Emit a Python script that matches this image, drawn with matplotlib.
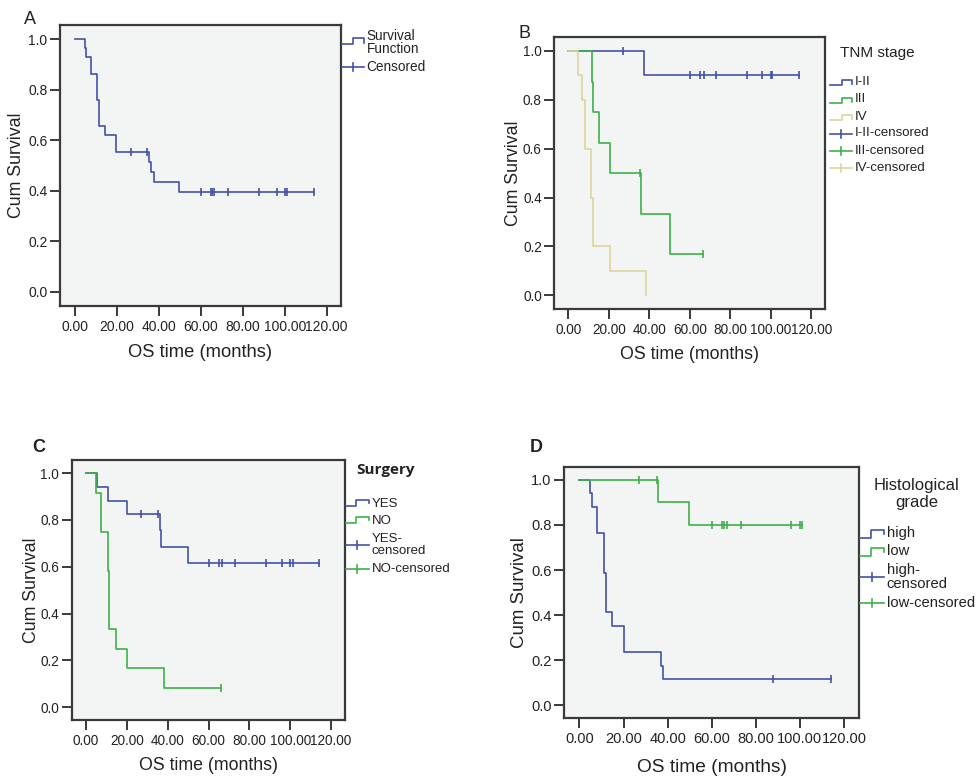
import matplotlib
matplotlib.use("Agg")
import matplotlib.pyplot as plt
from matplotlib.lines import Line2D

plt.rcParams['font.family'] = ['Liberation Sans', 'DejaVu Sans']

# ---------------- data ----------------
# Panel A: overall survival
a_time = [0, 4.8, 5.6, 7.6, 10.6, 11.6, 14.3, 19.6, 35.4, 36.5, 37.7, 49.7, 114.1]
a_surv = [1.0, 0.966, 0.931, 0.862, 0.759, 0.655, 0.621, 0.552, 0.512, 0.473, 0.434, 0.394, 0.394]
a_cens_t = [26.7, 34.6, 59.9, 64.7, 65.6, 66.4, 72.8, 87.9, 96.1, 100.3, 100.9, 114.1]
a_cens_s = [0.552, 0.552, 0.394, 0.394, 0.394, 0.394, 0.394, 0.394, 0.394, 0.394, 0.394, 0.394]

# Panel B: TNM stage
b12_time = [0, 37.2, 113.9]
b12_surv = [1.0, 0.9, 0.9]
b12_cens_t = [27.0, 60.2, 65.1, 67.1, 73.0, 88.0, 95.9, 100.0, 100.8, 113.9]
b12_cens_s = [1.0, 0.9, 0.9, 0.9, 0.9, 0.9, 0.9, 0.9, 0.9, 0.9]
b3_time = [0, 11.5, 12.0, 15.1, 20.3, 36.1, 50.0, 66.4]
b3_surv = [1.0, 0.875, 0.75, 0.625, 0.5, 0.333, 0.167, 0.167]
b3_cens_t = [35.2, 66.4]
b3_cens_s = [0.5, 0.167]
b4_time = [0, 4.9, 6.5, 8.0, 11.3, 12.1, 20.5, 38.4]
b4_surv = [1.0, 0.9, 0.8, 0.6, 0.4, 0.2, 0.1, 0.0]
b_labels = ['I-II', 'III', 'IV', 'I-II-censored', 'III-censored', 'IV-censored']

# Panel C: Surgery
cy_time = [0, 5.5, 10.6, 20.0, 36.1, 36.9, 50.1, 114.3]
cy_surv = [1.0, 0.941, 0.882, 0.824, 0.755, 0.686, 0.618, 0.618]
cy_cens_t = [26.9, 35.4, 60.1, 64.9, 66.7, 73.0, 88.0, 96.0, 100.1, 101.1, 114.3]
cy_cens_s = [0.824, 0.824, 0.618, 0.618, 0.618, 0.618, 0.618, 0.618, 0.618, 0.618, 0.618]
cn_time = [0, 4.7, 7.3, 10.6, 11.4, 14.5, 20.0, 38.0, 66.1]
cn_surv = [1.0, 0.917, 0.75, 0.583, 0.333, 0.25, 0.167, 0.083, 0.083]
cn_cens_t = [66.1]
cn_cens_s = [0.083]
c_labels = ['YES', 'NO', 'YES-\ncensored', 'NO-censored']

# Panel D: Histological grade
dh_time = [0, 4.8, 5.8, 7.9, 11.0, 12.0, 14.7, 20.0, 37.0, 38.1, 114.0]
dh_surv = [1.0, 0.941, 0.882, 0.765, 0.588, 0.412, 0.353, 0.235, 0.176, 0.118, 0.118]
dh_cens_t = [88.0, 114.0]
dh_cens_s = [0.118, 0.118]
dl_time = [0, 35.8, 49.9, 100.8]
dl_surv = [1.0, 0.9, 0.8, 0.8]
dl_cens_t = [26.9, 35.1, 60.0, 64.8, 65.7, 66.8, 73.2, 96.0, 100.0, 100.8]
dl_cens_s = [1.0, 1.0, 0.8, 0.8, 0.8, 0.8, 0.8, 0.8, 0.8, 0.8]
d_labels = ['high', 'low', 'high-\ncensored', 'low-censored']

x_ticks = [0, 20, 40, 60, 80, 100, 120]
y_ticks = [0.0, 0.2, 0.4, 0.6, 0.8, 1.0]

# ---------------- style ----------------
W, H = 976, 776
BLUE = '#4351A8'
GREEN = '#3FB04A'
TAN = '#DDD59C'
BG = '#F3F5F5'
FRAME = '#3A3A3A'
TXT = '#222222'

fig = plt.figure(figsize=(W / 100, H / 100), dpi=100)


def fx(x):
    return x / W


def fy(y):
    return 1 - y / H


def make_ax(l, t, r, b, tick_fs):
    ax = fig.add_axes([fx(l), fy(b), fx(r) - fx(l), (b - t) / H])
    ax.set_facecolor(BG)
    ax.set_xlim(-7.0, 126.8)
    ax.set_ylim(-0.055, 1.056)
    ax.set_xticks(x_ticks)
    ax.set_yticks(y_ticks)
    ax.set_xticklabels(['%.2f' % v for v in x_ticks])
    ax.set_yticklabels(['%.1f' % v for v in y_ticks])
    for s in ax.spines.values():
        s.set_color(FRAME)
        s.set_linewidth(1.6)
    ax.tick_params(direction='out', length=7, width=1.4, color=FRAME,
                   labelsize=tick_fs, labelcolor=TXT)
    ax.tick_params(axis='x', pad=3)
    ax.tick_params(axis='y', pad=2)
    return ax


def km(ax, t, s, color, z=2, ct=None, cs=None):
    ax.step(t, s, where='post', color=color, lw=1.2, zorder=z)
    if ct:
        ax.plot(ct, cs, linestyle='none', marker='|', ms=5.5, mew=1.2,
                color=color, zorder=z)


def labels(ax, xl_y, xl_fs, yl_x, yl_fs):
    pos = ax.get_position()
    fig.text((pos.x0 + pos.x1) / 2, fy(xl_y), 'OS time (months)', ha='center',
             va='center', fontsize=xl_fs, color=TXT)
    fig.text(fx(yl_x), (pos.y0 + pos.y1) / 2, 'Cum Survival', ha='center',
             va='center', rotation=90, fontsize=yl_fs, color=TXT)


def step_handle(x0, x1, x2, ylow, yhigh, yend, color):
    xs = [x0, x1, x1, x2, x2]
    ys = [ylow, ylow, yhigh, yhigh, yend]
    fig.add_artist(Line2D([fx(v) for v in xs], [fy(v) for v in ys],
                          color=color, lw=1.2, transform=fig.transFigure))


def cens_handle(x0, x2, y, color, h=4):
    xm = (x0 + x2) / 2
    fig.add_artist(Line2D([fx(x0), fx(x2)], [fy(y), fy(y)], color=color, lw=1.2,
                          transform=fig.transFigure))
    fig.add_artist(Line2D([fx(xm), fx(xm)], [fy(y - h), fy(y + h)], color=color,
                          lw=1.2, transform=fig.transFigure))


def ltext(x, y, s, fs, **kw):
    fig.text(fx(x), fy(y), s, ha='left', va='center', fontsize=fs, color=TXT,
             linespacing=0.95, **kw)


# ---------------- Panel A ----------------
axA = make_ax(60, 25, 341, 305.7, 10.0)
km(axA, a_time, a_surv, BLUE, 2, a_cens_t, a_cens_s)
labels(axA, 353, 13.2, 17, 12.8)
fig.text(fx(30), fy(19), 'A', ha='center', va='center', fontsize=13, color=TXT)
step_handle(342, 353.3, 363.5, 44, 38.3, 42.7, BLUE)
ltext(366.5, 42.5, 'Survival\nFunction', 9.8)
cens_handle(342, 363.5, 66.7, BLUE)
ltext(366.5, 66.7, 'Censored', 9.8)

# ---------------- Panel B ----------------
axB = make_ax(554.3, 37.3, 825, 308.7, 9.8)
km(axB, b12_time, b12_surv, BLUE, 2, b12_cens_t, b12_cens_s)
km(axB, b3_time, b3_surv, GREEN, 3, b3_cens_t, b3_cens_s)
km(axB, b4_time, b4_surv, TAN, 4)
labels(axB, 355, 12.8, 514, 12.8)
fig.text(fx(524.5), fy(33.5), 'B', ha='center', va='center', fontsize=13, color=TXT)
fig.text(fx(840), fy(53.5), 'TNM stage', ha='left', va='center', fontsize=11, color=TXT)
b_cols = [BLUE, GREEN, TAN]
b_y = [81.7, 99.5, 117.0, 133.5, 150.5, 168.0]
for i in range(3):
    y = b_y[i]
    step_handle(829.5, 841.5, 852, y + 3, y - 2, y + 2, b_cols[i])
    ltext(855, y, b_labels[i], 9.5)
for i in range(3):
    y = b_y[3 + i]
    cens_handle(829.5, 852, y, b_cols[i])
    ltext(855, y, b_labels[3 + i], 9.5)

# ---------------- Panel C ----------------
axC = make_ax(71.7, 460, 345, 720, 9.8)
km(axC, cy_time, cy_surv, BLUE, 2, cy_cens_t, cy_cens_s)
km(axC, cn_time, cn_surv, GREEN, 3, cn_cens_t, cn_cens_s)
labels(axC, 765, 12.8, 31, 12.8)
fig.text(fx(39), fy(447.5), 'C', ha='center', va='center', fontsize=13,
         fontweight='bold', color=TXT)
fig.text(fx(356.5), fy(470.5), 'Surgery', ha='left', va='center', fontsize=11,
         fontweight='bold', color=TXT, family=['Open Sans', 'DejaVu Sans'])
c_cols = [BLUE, GREEN]
c_y = [504, 521, 545, 569]
for i in range(2):
    y = c_y[i]
    step_handle(346, 356, 368.5, y + 1.5, y - 4, y - 1, c_cols[i])
    ltext(371.5, y, c_labels[i], 9.5)
for i in range(2):
    y = c_y[2 + i]
    cens_handle(346, 368.5, y, c_cols[i])
    ltext(371.5, y, c_labels[2 + i], 9.5)

# ---------------- Panel D ----------------
axD = make_ax(564, 467.3, 859, 717.7, 10.5)
km(axD, dh_time, dh_surv, BLUE, 2, dh_cens_t, dh_cens_s)
km(axD, dl_time, dl_surv, GREEN, 3, dl_cens_t, dl_cens_s)
labels(axD, 768, 13.8, 520, 13.4)
fig.text(fx(536), fy(447.5), 'D', ha='center', va='center', fontsize=13,
         fontweight='bold', color=TXT)
fig.text(fx(916.7), fy(494), 'Histological\ngrade', ha='center', va='center',
         fontsize=12, color=TXT, linespacing=1.1)
d_cols = [BLUE, GREEN]
d_y = [532.7, 550.7, 577, 602.7]
for i in range(2):
    y = d_y[i]
    step_handle(860, 871, 884, y + 5, y - 3, y + 1.5, d_cols[i])
    ltext(886.5, y, d_labels[i], 10.6)
for i in range(2):
    y = d_y[2 + i]
    cens_handle(860, 884, y, d_cols[i])
    ltext(886.5, y, d_labels[2 + i], 10.6)

fig.savefig('out.png', dpi=100)
